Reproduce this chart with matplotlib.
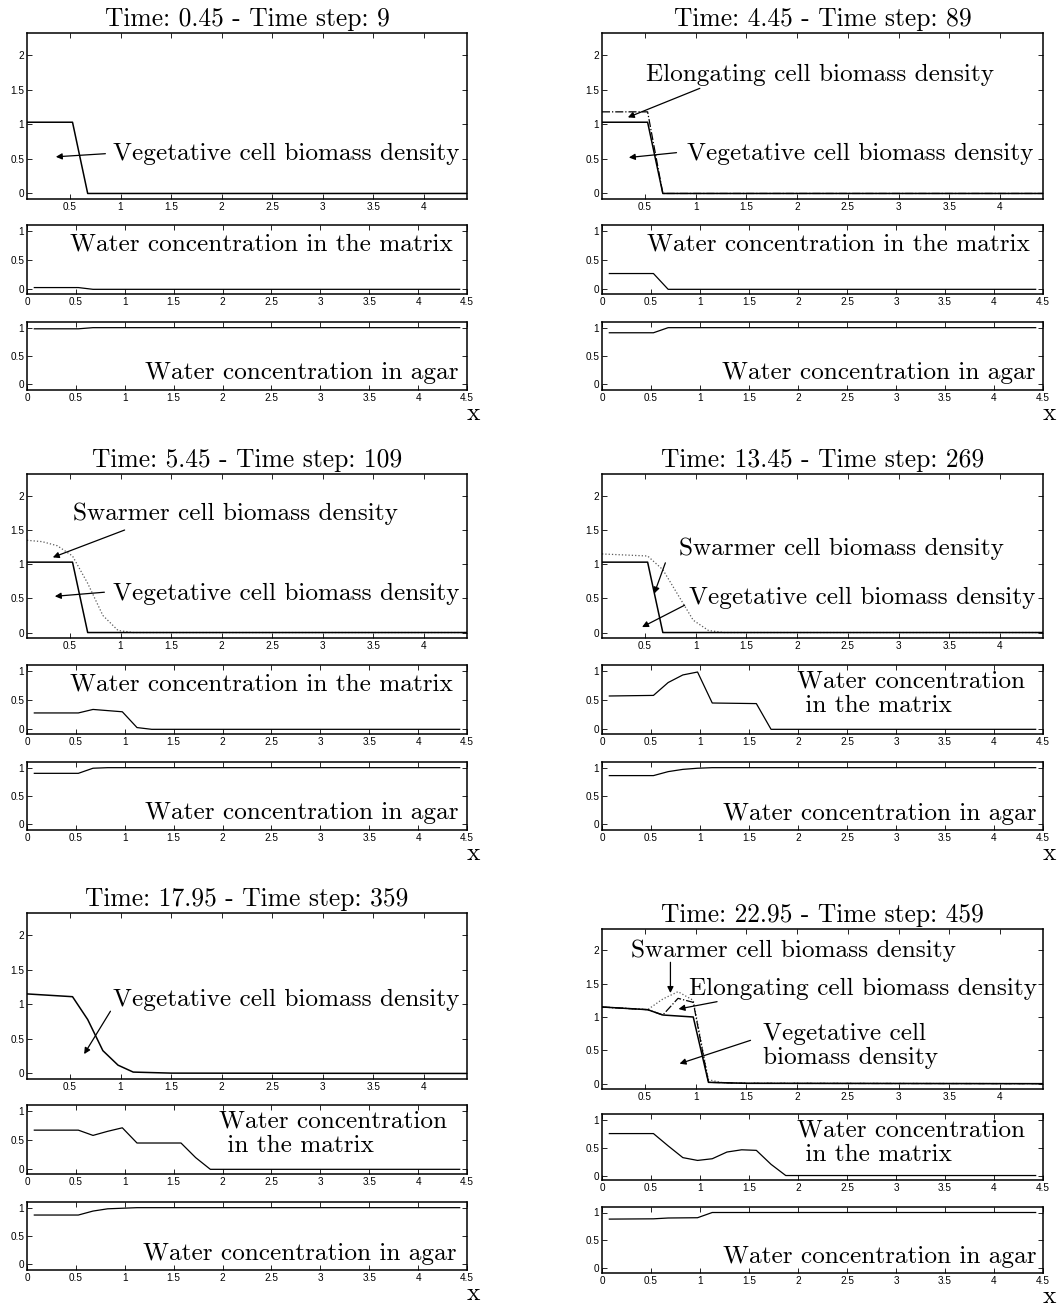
import matplotlib.pyplot as plt
import numpy as np

# ---------------- data ----------------
titles = ['Time: 0.45 - Time step: 9', 'Time: 4.45 - Time step: 89',
          'Time: 5.45 - Time step: 109', 'Time: 13.45 - Time step: 269',
          'Time: 17.95 - Time step: 359', 'Time: 22.95 - Time step: 459']

# panel 1
p1_veg_x = [0.075, 0.525, 0.675, 4.425]
p1_veg = [1.03, 1.03, 0.0, 0.0]
p1_mat_x = [0.075, 0.525, 0.675, 4.425]
p1_mat = [0.03, 0.03, 0.0, 0.0]
p1_agar_x = [0.075, 0.525, 0.675, 4.425]
p1_agar = [0.98, 0.98, 1.0, 1.0]

# panel 2
p2_veg_x = [0.075, 0.525, 0.675, 4.425]
p2_veg = [1.03, 1.03, 0.0, 0.0]
p2_elo_x = [0.075, 0.525, 0.675, 4.425]
p2_elo = [1.18, 1.18, 0.0, 0.0]
p2_mat_x = [0.075, 0.525, 0.675, 4.425]
p2_mat = [0.27, 0.27, 0.0, 0.0]
p2_agar_x = [0.075, 0.525, 0.675, 4.425]
p2_agar = [0.91, 0.91, 1.0, 1.0]

# panel 3
p3_veg_x = [0.075, 0.525, 0.675, 4.425]
p3_veg = [1.03, 1.03, 0.0, 0.0]
p3_swa_x = [0.075, 0.225, 0.375, 0.525, 0.675, 0.825, 0.975, 1.125, 4.425]
p3_swa = [1.35, 1.33, 1.27, 1.12, 0.72, 0.25, 0.03, 0.0, 0.0]
p3_mat_x = [0.075, 0.525, 0.675, 0.825, 0.975, 1.125, 1.275, 4.425]
p3_mat = [0.28, 0.28, 0.34, 0.32, 0.30, 0.03, 0.0, 0.0]
p3_agar_x = [0.075, 0.525, 0.675, 0.825, 4.425]
p3_agar = [0.90, 0.90, 0.99, 1.0, 1.0]

# panel 4
p4_veg_x = [0.075, 0.525, 0.675, 4.425]
p4_veg = [1.03, 1.03, 0.0, 0.0]
p4_swa_x = [0.075, 0.525, 0.675, 0.825, 0.975, 1.125, 1.275, 4.425]
p4_swa = [1.15, 1.12, 0.92, 0.55, 0.18, 0.03, 0.0, 0.0]
p4_mat_x = [0.075, 0.525, 0.675, 0.825, 0.975, 1.125, 1.575, 1.725, 4.425]
p4_mat = [0.57, 0.58, 0.80, 0.93, 0.98, 0.45, 0.44, 0.0, 0.0]
p4_agar_x = [0.075, 0.525, 0.675, 0.825, 0.975, 1.125, 4.425]
p4_agar = [0.86, 0.86, 0.93, 0.97, 0.99, 1.0, 1.0]

# panel 5
p5_veg_x = [0.075, 0.525, 0.675, 0.825, 0.975, 1.125, 1.5, 4.425]
p5_veg = [1.15, 1.11, 0.78, 0.33, 0.12, 0.02, 0.005, 0.0]
p5_mat_x = [0.075, 0.525, 0.675, 0.825, 0.975, 1.125, 1.575, 1.725, 1.875, 4.425]
p5_mat = [0.67, 0.67, 0.58, 0.65, 0.71, 0.45, 0.45, 0.20, 0.0, 0.0]
p5_agar_x = [0.075, 0.525, 0.675, 0.825, 0.975, 1.125, 4.425]
p5_agar = [0.87, 0.87, 0.94, 0.98, 0.99, 1.0, 1.0]

# panel 6
p6_veg_x = [0.075, 0.525, 0.675, 0.975, 1.125, 1.5, 4.425]
p6_veg = [1.15, 1.11, 1.03, 1.0, 0.02, 0.005, 0.0]
p6_elo_x = [0.075, 0.525, 0.675, 0.825, 0.975, 1.125, 1.5, 4.425]
p6_elo = [1.15, 1.11, 1.03, 1.28, 1.22, 0.02, 0.005, 0.0]
p6_swa_x = [0.075, 0.525, 0.675, 0.825, 0.975, 1.125, 1.275, 4.425]
p6_swa = [1.15, 1.11, 1.27, 1.38, 1.25, 0.06, 0.01, 0.0]
p6_mat_x = [0.075, 0.525, 0.675, 0.825, 0.975, 1.125, 1.275, 1.425, 1.575, 1.725, 1.875, 4.425]
p6_mat = [0.75, 0.75, 0.53, 0.32, 0.27, 0.30, 0.42, 0.46, 0.45, 0.20, 0.0, 0.0]
p6_agar_x = [0.075, 0.525, 0.675, 0.975, 1.125, 4.425]
p6_agar = [0.88, 0.885, 0.90, 0.905, 1.0, 1.0]

top_yticks = [0, 0.5, 1, 1.5, 2]
low_yticks = [0, 0.5, 1]
top_xticks = [0.5, 1, 1.5, 2, 2.5, 3, 3.5, 4]
low_xticks = [0, 0.5, 1, 1.5, 2, 2.5, 3, 3.5, 4, 4.5]

# ---------------- layout (pixels) ----------------
W, H = 1059, 1306
fig = plt.figure(figsize=(W / 100, H / 100), dpi=100)
SERIF = 'cmr10'
TICKF = 'Liberation Sans'
TXT = 18.2
TTL = 18.4

cols = [(27, 467), (602, 1043)]
# (top axes, middle axes, bottom axes) as (y_top, y_bottom)
rows = {
    0: [(33, 199), (225, 294), (322, 390)],
    1: [(33, 199), (225, 294), (322, 390)],
    2: [(474, 638), (665, 734), (762, 830)],
    3: [(474, 638), (665, 734), (762, 830)],
    4: [(913, 1079), (1105, 1174), (1202, 1270)],
    5: [(929, 1089), (1114, 1180), (1207, 1273)],
}


def px_axes(x0, x1, y0, y1):
    return fig.add_axes([x0 / W, 1 - y1 / H, (x1 - x0) / W, (y1 - y0) / H])


def style(ax, xlim, ylim, xt, yt):
    ax.set_xlim(*xlim)
    ax.set_ylim(*ylim)
    ax.set_xticks(xt)
    ax.set_xticklabels(['%g' % t for t in xt], fontfamily=TICKF)
    ax.set_yticks(yt)
    ax.set_yticklabels(['%g' % t for t in yt], fontfamily=TICKF)
    ax.tick_params(direction='in', top=True, right=True, length=3.5,
                   width=0.6, labelsize=7.2, pad=2)
    for s in ax.spines.values():
        s.set_linewidth(1.1)


def arrow(ax, tail, tip):
    ax.annotate('', xy=tip, xytext=tail,
                arrowprops=dict(arrowstyle='-|>', lw=0.9, color='k',
                                mutation_scale=9, shrinkA=0, shrinkB=0))


def label(ax, x, y, s):
    ax.text(x, y, s, ha='left', va='center', fontfamily=SERIF,
            fontsize=TXT, linespacing=1.1)


biomass = [
    [(p1_veg_x, p1_veg, '-')],
    [(p2_elo_x, p2_elo, '-.'), (p2_veg_x, p2_veg, '-')],
    [(p3_swa_x, p3_swa, ':'), (p3_veg_x, p3_veg, '-')],
    [(p4_swa_x, p4_swa, ':'), (p4_veg_x, p4_veg, '-')],
    [(p5_veg_x, p5_veg, '-')],
    [(p6_swa_x, p6_swa, ':'), (p6_elo_x, p6_elo, '-.'), (p6_veg_x, p6_veg, '-')],
]
matrix = [(p1_mat_x, p1_mat), (p2_mat_x, p2_mat), (p3_mat_x, p3_mat),
          (p4_mat_x, p4_mat), (p5_mat_x, p5_mat), (p6_mat_x, p6_mat)]
agar = [(p1_agar_x, p1_agar), (p2_agar_x, p2_agar), (p3_agar_x, p3_agar),
        (p4_agar_x, p4_agar), (p5_agar_x, p5_agar), (p6_agar_x, p6_agar)]

tops = []
mids = []
bots = []
for k in range(6):
    x0, x1 = cols[k % 2]
    (a0, a1), (b0, b1), (c0, c1) = rows[k]
    ax = px_axes(x0, x1, a0, a1)
    for xs, ys, ls in biomass[k]:
        if ls == ':':
            ax.plot(xs, ys, ls, color='0.35', lw=0.9)
        elif ls == '-.':
            ax.plot(xs, ys, ls, color='k', lw=0.9)
        else:
            ax.plot(xs, ys, ls, color='k', lw=1.1)
    style(ax, (0.075, 4.425), (-0.08, 2.32), top_xticks, top_yticks)
    ax.set_title(titles[k], fontfamily=SERIF, fontsize=TTL, pad=5)
    tops.append(ax)

    ax2 = px_axes(x0, x1, b0, b1)
    ax2.plot(*matrix[k], color='k', lw=0.9)
    style(ax2, (0, 4.5), (-0.08, 1.1), low_xticks, low_yticks)
    mids.append(ax2)

    ax3 = px_axes(x0, x1, c0, c1)
    ax3.plot(*agar[k], color='k', lw=0.9)
    style(ax3, (0, 4.5), (-0.1, 1.1), low_xticks, low_yticks)
    bots.append(ax3)
    fig.text((x1 + 6) / W, 1 - (c1 + 24) / H, 'x', fontfamily=SERIF,
             fontsize=TXT, ha='center', va='center')

# ---------------- annotations ----------------
veg = 'Vegetative cell biomass density'
elo = 'Elongating cell biomass density'
swa = 'Swarmer cell biomass density'
mat1 = 'Water concentration in the matrix'
mat2 = 'Water concentration\n in the matrix'
agr = 'Water concentration in agar'

# panel 1
label(tops[0], 0.93, 0.57, veg)
arrow(tops[0], (0.85, 0.575), (0.36, 0.53))
# panel 2
label(tops[1], 0.51, 1.71, elo)
arrow(tops[1], (1.04, 1.52), (0.33, 1.10))
label(tops[1], 0.91, 0.57, veg)
arrow(tops[1], (0.81, 0.59), (0.34, 0.52))
# panel 3
label(tops[2], 0.53, 1.74, swa)
arrow(tops[2], (1.04, 1.50), (0.33, 1.10))
label(tops[2], 0.93, 0.57, veg)
arrow(tops[2], (0.84, 0.59), (0.35, 0.53))
# panel 4
label(tops[3], 0.83, 1.23, swa)
arrow(tops[3], (0.70, 1.02), (0.59, 0.57))
label(tops[3], 0.93, 0.50, veg)
arrow(tops[3], (0.89, 0.40), (0.47, 0.08))
# panel 5
label(tops[4], 0.93, 1.06, veg)
arrow(tops[4], (0.90, 0.90), (0.64, 0.28))
# panel 6
label(tops[5], 0.36, 2.0, swa)
arrow(tops[5], (0.75, 1.82), (0.75, 1.36))
label(tops[5], 0.93, 1.42, elo)
arrow(tops[5], (1.21, 1.23), (0.83, 1.12))
label(tops[5], 1.66, 0.57, 'Vegetative cell\nbiomass density')
arrow(tops[5], (1.54, 0.65), (0.84, 0.30))

label(mids[0], 0.44, 0.76, mat1)
label(mids[1], 0.46, 0.76, mat1)
label(mids[2], 0.44, 0.76, mat1)
label(mids[3], 1.99, 0.61, mat2)
label(mids[4], 1.96, 0.61, mat2)
label(mids[5], 1.99, 0.59, mat2)

label(bots[0], 1.21, 0.20, agr)
label(bots[1], 1.22, 0.20, agr)
label(bots[2], 1.21, 0.20, agr)
label(bots[3], 1.23, 0.19, agr)
label(bots[4], 1.19, 0.19, agr)
label(bots[5], 1.23, 0.20, agr)

fig.savefig('out.png', dpi=100)
